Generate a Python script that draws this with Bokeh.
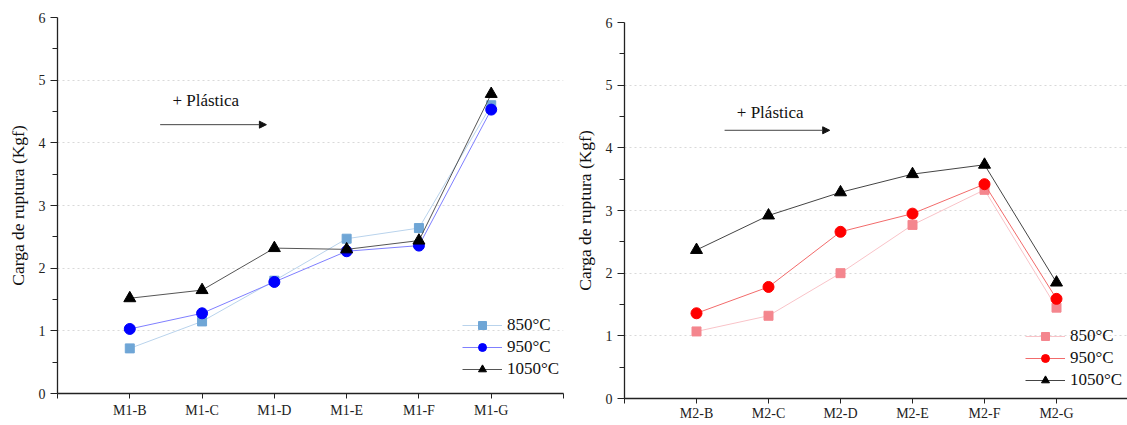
from bokeh.plotting import figure
from bokeh.layouts import row, column
from bokeh.models import Range1d, FixedTicker, Legend, LegendItem, Arrow, NormalHead, Label, Spacer
from bokeh.embed import file_html
from bokeh.resources import INLINE

# ---------------- data ----------------
cats1 = ["M1-B", "M1-C", "M1-D", "M1-E", "M1-F", "M1-G"]
cats2 = ["M2-B", "M2-C", "M2-D", "M2-E", "M2-F", "M2-G"]
temps = ["850°C", "950°C", "1050°C"]

m1_850 = [0.72, 1.15, 1.80, 2.47, 2.64, 4.60]
m1_950 = [1.03, 1.28, 1.78, 2.27, 2.36, 4.53]
m1_1050 = [1.52, 1.65, 2.32, 2.30, 2.44, 4.78]

m2_850 = [1.07, 1.32, 2.00, 2.77, 3.33, 1.45]
m2_950 = [1.36, 1.78, 2.66, 2.95, 3.42, 1.59]
m2_1050 = [2.37, 2.92, 3.29, 3.58, 3.73, 1.85]

y_ticks = [0, 1, 2, 3, 4, 5, 6]
y_minor = [0.5, 1.5, 2.5, 3.5, 4.5, 5.5]
y_label = "Carga de ruptura (Kgf)"
note = "+ Plástica"

SERIF = "Liberation Serif"


def make_fig(cats, series, styles, frame_w, frame_h, b_left, b_right, b_top,
             legend_loc, note_xy, arrow_xy, x_standoff):
    n = len(cats)
    xs = list(range(1, n + 1))
    p = figure(frame_width=frame_w, frame_height=frame_h, output_backend="svg",
               toolbar_location=None,
               x_range=Range1d(0, n + 1), y_range=Range1d(y_ticks[0], y_ticks[-1]),
               min_border_left=b_left, min_border_top=b_top,
               min_border_right=b_right, min_border_bottom=0)
    p.outline_line_color = None
    p.background_fill_color = "white"
    p.border_fill_color = "white"

    for ax in (p.xaxis[0], p.yaxis[0]):
        ax.axis_line_color = "#222222"
        ax.axis_line_width = 1.3
        ax.major_tick_line_color = "#222222"
        ax.minor_tick_line_color = "#222222"
        ax.major_tick_in = 0
        ax.minor_tick_in = 0
        ax.major_label_text_font = SERIF
        ax.major_label_text_font_size = "14px"
        ax.major_label_text_color = "#222222"

    p.xaxis.ticker = FixedTicker(ticks=list(range(0, n + 2)))
    overrides = {0: "", n + 1: ""}
    for i, c in enumerate(cats):
        overrides[i + 1] = c
    p.xaxis.major_label_overrides = overrides
    p.xaxis.major_tick_out = 5
    p.xaxis.major_label_standoff = x_standoff

    p.yaxis.ticker = FixedTicker(ticks=y_ticks, minor_ticks=y_minor)
    p.yaxis.major_tick_out = 7
    p.yaxis.minor_tick_out = 5
    p.yaxis.major_label_standoff = 5
    p.yaxis.axis_label = y_label
    p.yaxis.axis_label_text_font = SERIF
    p.yaxis.axis_label_text_font_size = "17.5px"
    p.yaxis.axis_label_text_font_style = "normal"
    p.yaxis.axis_label_text_color = "#111111"
    p.yaxis.axis_label_standoff = 8

    p.xgrid.visible = False
    p.ygrid.ticker = FixedTicker(ticks=y_ticks[1:-1])
    p.ygrid.grid_line_color = "#d9d9d9"
    p.ygrid.grid_line_dash = "2 3"
    p.ygrid.grid_line_width = 1

    items = []
    for label, vals, st in zip(temps, series, styles):
        lr = p.line(xs, vals, line_color=st["line"], line_width=1)
        sr = p.scatter(xs, vals, marker=st["marker"], size=st["size"],
                       fill_color=st["fill"], line_color=st["fill"])
        items.append(LegendItem(label=label, renderers=[lr, sr]))

    legend = Legend(items=items, location=legend_loc, orientation="vertical",
                    glyph_width=40, glyph_height=20, spacing=2, label_standoff=5,
                    label_text_font=SERIF, label_text_font_size="17px",
                    label_text_color="#111111", padding=0, margin=0,
                    border_line_color=None, background_fill_alpha=0)
    p.add_layout(legend)

    p.add_layout(Label(x=note_xy[0], y=note_xy[1], text=note, text_font=SERIF,
                       text_font_size="17px", text_baseline="middle", text_align="left",
                       text_color="#111111"))
    p.add_layout(Arrow(end=NormalHead(size=7, fill_color="#111111", line_color="#111111"),
                       x_start=arrow_xy[0], y_start=arrow_xy[2],
                       x_end=arrow_xy[1], y_end=arrow_xy[2],
                       line_color="#444444", line_width=1))
    return p


styles1 = [
    dict(line="#b9d3ec", fill="#6fa6d6", marker="square", size=9),
    dict(line="#7f7fff", fill="#0000ff", marker="circle", size=11),
    dict(line="#555555", fill="#000000", marker="triangle", size=12),
]
styles2 = [
    dict(line="#f9c3c8", fill="#f4868e", marker="square", size=9),
    dict(line="#f26b6b", fill="#ff0000", marker="circle", size=11),
    dict(line="#444444", fill="#000000", marker="triangle", size=12),
]

p1 = make_fig(cats1, [m1_850, m1_950, m1_1050], styles1, 506, 376, 52, 8, 14,
              (405, 14), (1.59, 4.675), (1.42, 2.89, 4.29), 4)
p2 = make_fig(cats2, [m2_850, m2_950, m2_1050], styles2, 504, 376, 52, 1, 14,
              (401, 8), (1.56, 4.56), (1.39, 2.85, 4.28), 2)

layout = row(Spacer(width=4, height=10),
             column(Spacer(height=3, width=10), p1),
             column(Spacer(height=8, width=10), p2))
open("out.html", "w").write(file_html(layout, INLINE))
